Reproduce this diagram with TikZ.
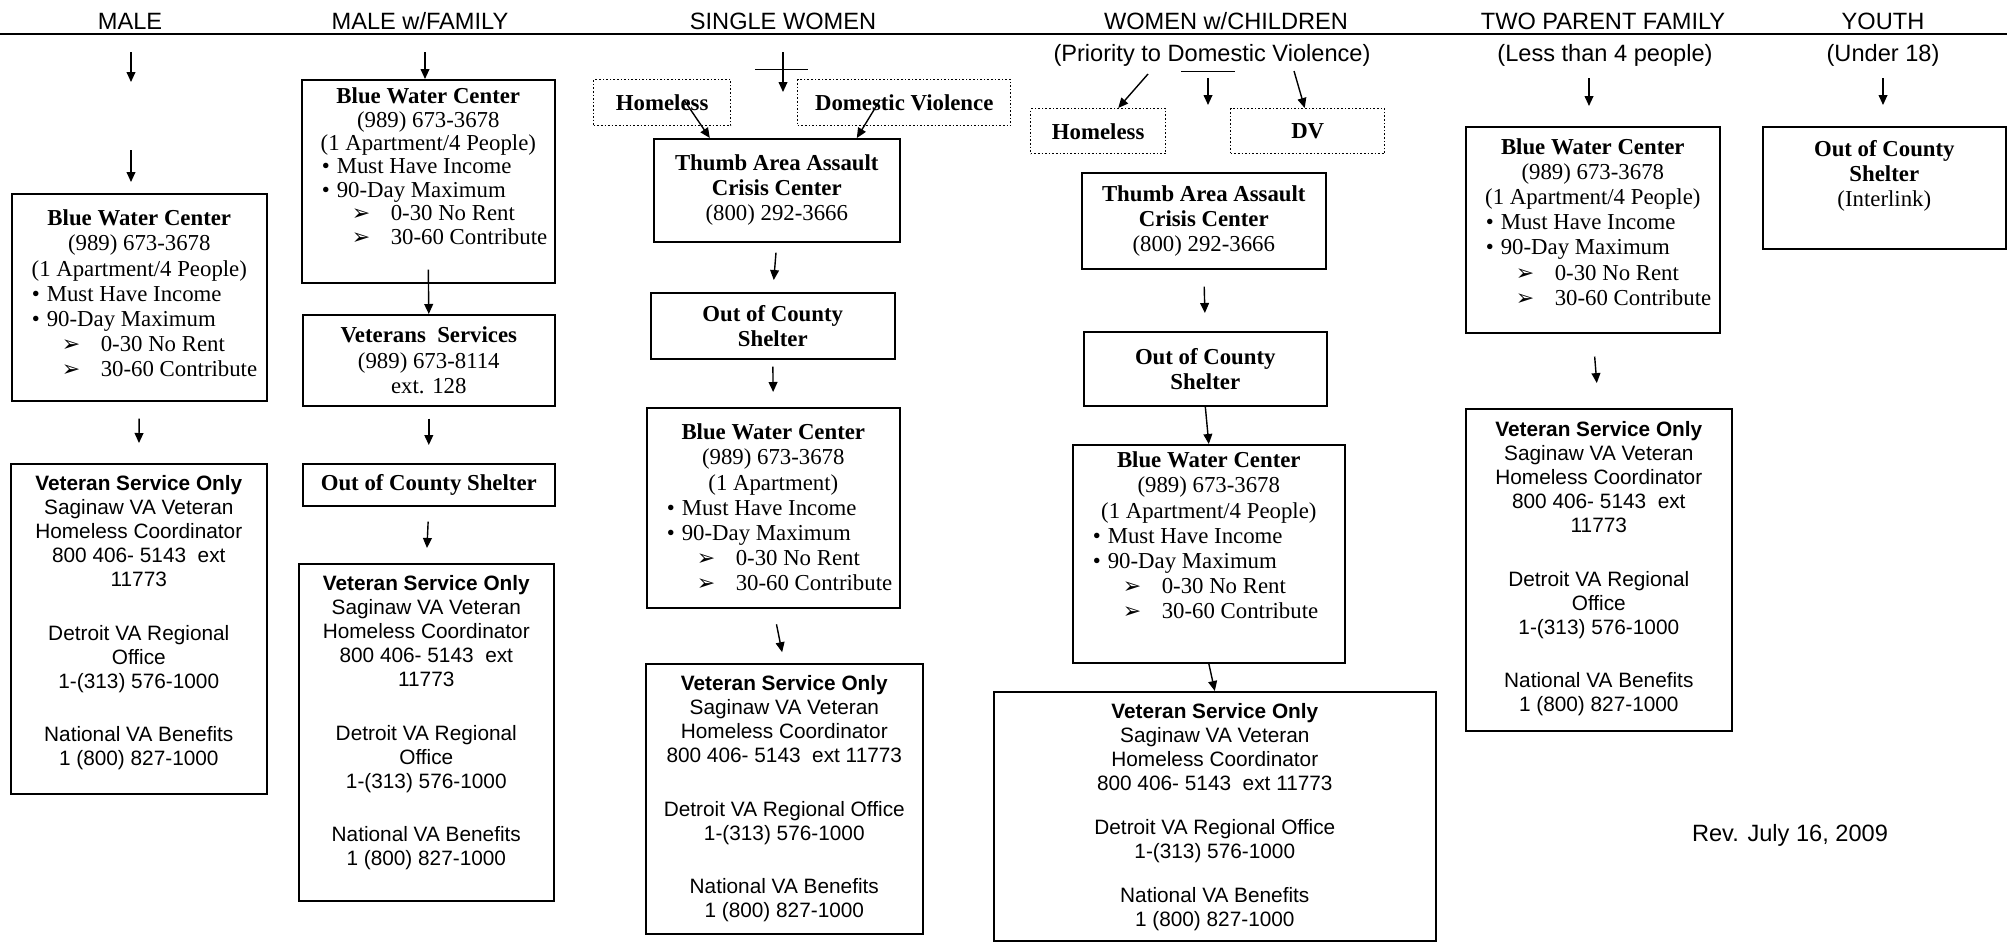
\documentclass[tikz,border=0pt]{standalone}
\usepackage{fontspec}
\setmainfont{Liberation Serif}
\newfontfamily\arial{Liberation Sans}
\newfontfamily\dejavu{DejaVu Sans}
\usetikzlibrary{arrows.meta}

\newcommand{\tnr}{\fontsize{11.4}{12.6}\selectfont}
\newcommand{\vsf}{\arial\fontsize{10.4}{12}\selectfont}
\newcommand{\hdf}{\arial\fontsize{11.8}{13}\selectfont}
\newcommand{\inbox}[4]{\parbox[c][#2][#3]{#1}{\centering#4}}
\newcommand{\arrowmark}{{\dejavu\fontsize{11}{11}\selectfont ➢}}
\newcommand{\bwcitems}{%
  \makebox[\linewidth][l]{\hspace*{10pt}\makebox[7.5pt][l]{\textbullet}Must Have Income}\\
  \makebox[\linewidth][l]{\hspace*{10pt}\makebox[7.5pt][l]{\textbullet}90-Day Maximum}\\
  \makebox[\linewidth][l]{\hspace*{25pt}\makebox[19.5pt][l]{\arrowmark}0-30 No Rent}\\
  \makebox[\linewidth][l]{\hspace*{25pt}\makebox[19.5pt][l]{\arrowmark}30-60 Contribute}}
\newcommand{\vetlong}{%
  \textbf{Veteran Service Only}\\Saginaw VA Veteran\\Homeless Coordinator\\
  800 406- 5143~ ext\\11773\\[14.7pt]
  Detroit VA Regional\\Office\\1-(313) 576-1000\\[14.7pt]
  National VA Benefits\\1 (800) 827-1000}
\newcommand{\vetshort}[1]{%
  \textbf{Veteran Service Only}\\Saginaw VA Veteran\\Homeless Coordinator\\
  800 406- 5143~ ext 11773\\[#1]
  Detroit VA Regional Office\\1-(313) 576-1000\\[#1]
  National VA Benefits\\1 (800) 827-1000}

\begin{document}
\begin{tikzpicture}[x=0.5pt,y=-0.5pt,
  box/.style={draw, line width=0.8pt, inner sep=0pt, anchor=north west, font=\tnr},
  dbox/.style={box, densely dotted, line width=0.7pt},
  vbox/.style={box, font=\vsf},
  arr/.style={line width=0.7pt, -{Triangle[length=5pt,width=4.4pt]}},
  hdr/.style={font=\hdf, inner sep=0pt}]
\useasboundingbox (0,0) rectangle (2007,943);

% headings
\node[hdr] (h_male) at (130,21) {MALE};
\node[hdr] (h_fam) at (420,21) {MALE w/FAMILY};
\node[hdr] (h_sw) at (783,21) {SINGLE WOMEN};
\node[hdr] (h_wc) at (1226,21) {WOMEN w/CHILDREN};
\node[hdr] (h_two) at (1603,21) {TWO PARENT FAMILY};
\node[hdr] (h_youth) at (1883,21) {YOUTH};
\coordinate (ll) at (0,34);
\coordinate (lr) at (2007,34);
\draw[line width=0.9pt] (ll) -- (lr);
\node[hdr] (sub_wc) at (1212,55) {(Priority to Domestic Violence)};
\node[hdr] (sub_two) at (1605,55) {(Less than 4 people)};
\node[hdr] (sub_youth) at (1883,55) {(Under 18)};

% male
\coordinate (m0) at (131,52);
\coordinate (m1) at (131,82);
\coordinate (m2) at (131,150);
\node[box] (m_bwc) at (11,193) {\inbox{127.5pt}{103.5pt}{t}{\vspace*{8pt}%
  \textbf{Blue Water Center}\\(989) 673-3678\\(1 Apartment/4 People)\\\bwcitems}};
\node[vbox] (m_vet) at (10,463) {\inbox{128pt}{165pt}{t}{\vspace*{6pt}\vetlong}};
\draw[arr] (m0) -- (m1);
\draw[arr] (m2) -- (m2 |- m_bwc.north) [shorten >=5.5pt];
\draw[arr, shorten <=8.5pt, shorten >=10pt] (m_bwc.south) -- (m_vet.north);

% male with family
\coordinate (f0) at (425,52);
\node[box] (f_bwc) at (301,79) {\inbox{126.5pt}{101.5pt}{t}{\fontsize{11.4}{11.7}\selectfont\vspace*{4pt}%
  \textbf{Blue Water Center}\\(989) 673-3678\\(1 Apartment/4 People)\\\bwcitems}};
\node[box] (f_vs) at (302,314) {\inbox{126pt}{45.5pt}{c}{%
  \textbf{Veterans~ Services}\\(989) 673-8114\\ext. 128}};
\node[box] (f_ocs) at (302,463) {\inbox{126pt}{21pt}{c}{\textbf{Out of County Shelter}}};
\node[vbox] (f_vet) at (298,563) {\inbox{127.5pt}{168.5pt}{t}{\vspace*{6pt}\vetlong}};
\draw[arr] (f0) -- (f0 |- f_bwc.north);
\draw[arr] ([yshift=7pt]f_bwc.south) -- (f_vs.north);
\draw[arr, shorten <=6pt, shorten >=9pt] (f_vs.south) -- (f_ocs.north);
\draw[arr, shorten <=7.5pt, shorten >=7.5pt] (f_ocs.south) -- (f_vet.north);

% single women
\coordinate (sw0) at (783,52);
\coordinate (sw1) at (783,92);
\coordinate (swl) at (755,69);
\coordinate (swr) at (808,69);
\node[dbox] (s_home) at (593,79) {\inbox{68.5pt}{23pt}{c}{\textbf{Homeless}}};
\node[dbox] (s_dv) at (797,79) {\inbox{106.5pt}{23pt}{c}{\textbf{Domestic Violence}}};
\node[box] (s_thumb) at (653,138) {\inbox{123pt}{51.5pt}{c}{%
  \textbf{Thumb Area Assault}\\\textbf{Crisis Center}\\(800) 292-3666}};
\node[box] (s_ocs) at (650,292) {\inbox{122pt}{33pt}{c}{\textbf{Out of County}\\\textbf{Shelter}}};
\node[box] (s_bwc) at (646,407) {\inbox{126.5pt}{100pt}{t}{\vspace*{8pt}%
  \textbf{Blue Water Center}\\(989) 673-3678\\(1 Apartment)\\\bwcitems}};
\node[vbox] (s_vet) at (645,663) {\inbox{138.5pt}{135pt}{t}{\vspace*{6pt}\vetshort{14.7pt}}};
\coordinate (sh) at (684,100);
\coordinate (sd) at (880,100);
\draw (swl) -- (swr);
\draw[arr] (sw0) -- (sw1);
\draw[arr] (sh) -- ([xshift=-33.5pt]s_thumb.north);
\draw[arr] (sd) -- ([xshift=40pt]s_thumb.north);
\draw[arr, shorten <=5pt, shorten >=6pt] (s_thumb.south) -- (s_ocs.north);
\draw[arr, shorten <=3.5pt, shorten >=7.5pt] (s_ocs.south) -- (s_bwc.north);
\draw[arr, shorten <=8pt, shorten >=5.5pt] (s_bwc.south) -- (s_vet.north);

% women with children
\coordinate (wl) at (1181,71);
\coordinate (wr) at (1235,71);
\coordinate (wa) at (1148,74);
\coordinate (wb) at (1294,71);
\coordinate (wm0) at (1208,78);
\coordinate (wm1) at (1208,105);
\node[dbox] (w_home) at (1030,108) {\inbox{67.5pt}{22.5pt}{c}{\textbf{Homeless}}};
\node[dbox] (w_dv) at (1230,108) {\inbox{77pt}{22.5pt}{c}{\textbf{DV}}};
\node[box] (w_thumb) at (1081,172) {\inbox{122pt}{48pt}{c}{%
  \textbf{Thumb Area Assault}\\\textbf{Crisis Center}\\(800) 292-3666}};
\node[box] (w_ocs) at (1083,331) {\inbox{121.5pt}{37pt}{c}{\textbf{Out of County}\\\textbf{Shelter}}};
\node[box] (w_bwc) at (1072,444) {\inbox{136pt}{109pt}{t}{\vspace*{3.5pt}%
  \textbf{Blue Water Center}\\(989) 673-3678\\(1 Apartment/4 People)\\\bwcitems}};
\node[vbox] (w_vet) at (993,691) {\inbox{221pt}{124.5pt}{t}{\vspace*{6pt}\vetshort{10pt}}};
\draw (wl) -- (wr);
\draw[arr] (wa) -- ([xshift=10pt]w_home.north);
\draw[arr] (wb) -- ([xshift=-1.5pt]w_dv.north);
\draw[arr] (wm0) -- (wm1);
\draw[arr, shorten <=8.5pt, shorten >=9pt] (w_thumb.south) -- (w_ocs.north);
\draw[arr] (w_ocs.south) -- (w_bwc.north);
\draw[arr] (w_bwc.south) -- (w_vet.north);

% two parent family
\coordinate (p0) at (1589,78);
\node[box] (p_bwc) at (1465,126) {\inbox{127pt}{103pt}{t}{\vspace*{5.7pt}%
  \textbf{Blue Water Center}\\(989) 673-3678\\(1 Apartment/4 People)\\\bwcitems}};
\node[vbox] (p_vet) at (1465,408) {\inbox{133pt}{161pt}{t}{\vspace*{6.5pt}\vetlong}};
\draw[arr, shorten >=10pt] (p0) -- (p0 |- p_bwc.north);
\draw[arr, shorten <=11.5pt, shorten >=12.5pt] (p_bwc.south) -- (p_vet.north);

% youth
\coordinate (y0) at (1883,78);
\node[box] (y_ocs) at (1762,126) {\inbox{121.5pt}{61pt}{t}{\vspace*{6.7pt}%
  \textbf{Out of County}\\\textbf{Shelter}\\(Interlink)}};
\draw[arr, shorten >=10.5pt] (y0) -- (y0 |- y_ocs.north);

\node[hdr] (rev) at (1790,835) {Rev. July 16, 2009};
\end{tikzpicture}
\end{document}
